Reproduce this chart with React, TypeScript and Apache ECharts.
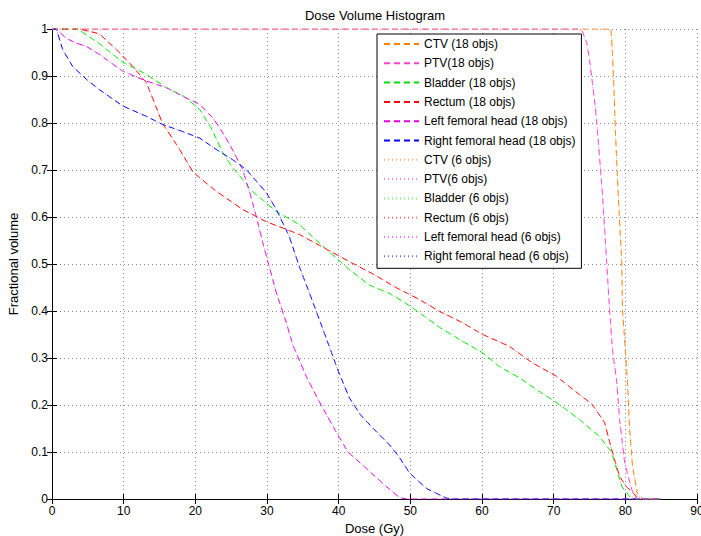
import React, { useEffect, useRef } from "react";
import * as echarts from "echarts";

// Dose (Gy) / fractional volume pairs
const ctvDose = [0, 78.0, 78.2, 78.4, 78.6, 79.0, 79.5, 79.6, 80.0, 80.3, 80.6, 81.0, 81.7, 82.5, 85];
const ctvVol = [1, 1, 0.95, 0.878, 0.786, 0.65, 0.503, 0.403, 0.318, 0.248, 0.148, 0.07, 0.01, 0, 0];

const ptvDose = [0, 73.5, 74.0, 74.6, 75.0, 75.4, 75.8, 76.1, 76.8, 77.4, 77.8, 78.2, 78.8, 79.2, 79.9, 80.9, 81.6, 85];
const ptvVol = [1, 1, 0.995, 0.971, 0.935, 0.886, 0.836, 0.786, 0.65, 0.503, 0.403, 0.318, 0.25, 0.169, 0.078, 0.02, 0, 0];

const bladderDose = [0, 3.6, 6.5, 9.9, 13, 16, 18.5, 20.6, 22.2, 23.8, 25.2, 26.6, 28.0, 31.3, 34.5, 38.3, 41.5, 44.3, 47, 49, 51.3, 54.1, 56.9, 60.1, 62.4, 65.2, 68.0, 70.8, 73.6, 76.4, 78.1, 78.8, 79.5, 80.6, 81.5, 85];
const bladderVol = [1, 1, 0.97, 0.929, 0.905, 0.875, 0.856, 0.829, 0.79, 0.737, 0.705, 0.68, 0.654, 0.612, 0.584, 0.531, 0.488, 0.455, 0.438, 0.42, 0.396, 0.365, 0.339, 0.311, 0.282, 0.258, 0.229, 0.201, 0.169, 0.133, 0.099, 0.063, 0.027, 0.005, 0, 0];

const rectumDose = [0, 3.8, 6.6, 9.0, 11.3, 13.2, 15.4, 17.8, 19.7, 22.9, 26.6, 29.9, 34.5, 39.2, 41.5, 45, 48, 51.3, 54.1, 57.3, 60.1, 63.8, 67, 70.4, 73.6, 75.4, 77.1, 77.8, 78.5, 79.2, 80.1, 81.6, 82.5, 85];
const rectumVol = [1, 1, 0.99, 0.956, 0.92, 0.885, 0.8, 0.744, 0.695, 0.655, 0.616, 0.59, 0.563, 0.524, 0.505, 0.477, 0.45, 0.424, 0.399, 0.375, 0.35, 0.325, 0.29, 0.261, 0.222, 0.201, 0.163, 0.122, 0.084, 0.048, 0.027, 0.005, 0, 0];

const leftFemDose = [0, 0.6, 2.0, 3.4, 4.8, 6.6, 9.9, 13.2, 16, 18.2, 20.6, 22.5, 24, 25.3, 26.6, 27.6, 28.5, 29.4, 30.3, 31.3, 32.7, 33.6, 35.5, 37.3, 39.3, 41.3, 44.3, 46.6, 48.5, 49.5, 85];
const leftFemVol = [1, 1, 0.98, 0.97, 0.963, 0.946, 0.91, 0.889, 0.875, 0.857, 0.84, 0.81, 0.775, 0.74, 0.701, 0.652, 0.601, 0.546, 0.495, 0.439, 0.375, 0.328, 0.26, 0.207, 0.152, 0.1, 0.059, 0.027, 0.003, 0, 0];

const rightFemDose = [0, 0.6, 1.5, 2.9, 4.8, 6.6, 9.9, 13.2, 15.4, 18.2, 20.6, 22.9, 25.2, 27.1, 29.9, 31.3, 33.1, 34.5, 35.9, 37.3, 38.7, 40, 41.5, 43, 44.5, 47.1, 48.5, 49.9, 52.3, 55, 56, 85];
const rightFemVol = [1, 1, 0.956, 0.92, 0.893, 0.871, 0.836, 0.814, 0.797, 0.782, 0.768, 0.744, 0.722, 0.701, 0.652, 0.616, 0.559, 0.495, 0.439, 0.382, 0.324, 0.27, 0.215, 0.18, 0.155, 0.115, 0.088, 0.055, 0.022, 0.002, 0, 0];

const names18 = ["CTV (18 objs)", "PTV(18 objs)", "Bladder (18 objs)", "Rectum (18 objs)", "Left femoral head (18 objs)", "Right femoral head (18 objs)"];
const names6 = ["CTV (6 objs)", "PTV(6 objs)", "Bladder (6 objs)", "Rectum (6 objs)", "Left femoral head (6 objs)", "Right femoral head (6 objs)"];
const colors18 = ["#ff8000", "#ff40d0", "#00e000", "#ff0000", "#e000e0", "#0000ff"];
const colors6 = ["#ffb060", "#ff80e8", "#70ff70", "#ff7070", "#ff70ff", "#7070ff"];

const xTicks = [0, 90, 10];
const yTicks = [0, 1, 0.1];

const organs = [
  [ctvDose, ctvVol],
  [ptvDose, ptvVol],
  [bladderDose, bladderVol],
  [rectumDose, rectumVol],
  [leftFemDose, leftFemVol],
  [rightFemDose, rightFemVol],
];

const FONT = "Liberation Sans, Arial, Helvetica, sans-serif";

export default function App() {
  const ref = useRef<HTMLDivElement>(null);
  useEffect(() => {
    if (!ref.current) return;
    const chart = echarts.init(ref.current, undefined, { renderer: "svg" });
    const pairs = (o: number[][]) => o[0].map((d, i) => [d, o[1][i]]);
    const series: any[] = [];
    organs.forEach((o, i) => {
      series.push({
        name: names18[i],
        type: "line",
        data: pairs(o as number[][]),
        showSymbol: false,
        symbol: "none",
        color: colors18[i],
        lineStyle: { width: 1, type: [6, 4], color: colors18[i] },
      });
    });
    organs.forEach((o, i) => {
      series.push({
        name: names6[i],
        type: "line",
        data: pairs(o as number[][]),
        showSymbol: false,
        symbol: "none",
        color: colors6[i],
        lineStyle: { width: 1, type: [1, 3], color: colors6[i] },
      });
    });
    const axisCommon = {
      type: "value" as const,
      axisLine: { show: true, lineStyle: { color: "#000", width: 1 } },
      axisTick: { show: true, inside: true, length: 5, lineStyle: { color: "#000" } },
    };
    chart.setOption({
      animation: false,
      backgroundColor: "#fff",
      title: {
        text: "Dose Volume Histogram",
        left: 375,
        textAlign: "center",
        top: 9,
        padding: 0,
        textStyle: { fontFamily: FONT, fontSize: 13, fontWeight: "normal", color: "#000" },
      },
      grid: { left: 52, top: 29, right: 4, bottom: 37, containLabel: false, outerBoundsMode: "none" },
      legend: {
        orient: "vertical",
        left: 377,
        top: 34,
        padding: [4, 6, 6, 6],
        itemGap: 7.3,
        itemWidth: 35,
        itemHeight: 12,
        backgroundColor: "#fff",
        borderColor: "#000",
        borderWidth: 1,
        borderRadius: 0,
        itemStyle: { opacity: 0, borderWidth: 0 },
        textStyle: { fontFamily: FONT, fontSize: 12, color: "#000" },
        data: [...names18, ...names6],
        selectedMode: false,
      },
      xAxis: [
        {
          ...axisCommon,
          position: "bottom",
          min: xTicks[0],
          max: xTicks[1],
          interval: xTicks[2],
          name: "Dose (Gy)",
          nameLocation: "middle",
          nameGap: 16,
          nameTextStyle: { fontFamily: FONT, fontSize: 13, color: "#000" },
          axisLabel: { fontFamily: FONT, fontSize: 12, color: "#000", margin: 6 },
          splitLine: { show: true, lineStyle: { color: "#8c8c8c", type: [1, 3], width: 1 } },
        },
        {
          ...axisCommon,
          position: "top",
          min: xTicks[0],
          max: xTicks[1],
          interval: xTicks[2],
          axisLabel: { show: false },
          splitLine: { show: false },
        },
      ],
      yAxis: [
        {
          ...axisCommon,
          position: "left",
          min: yTicks[0],
          max: yTicks[1],
          interval: yTicks[2],
          name: "Fractional volume",
          nameLocation: "middle",
          nameGap: 24,
          nameTextStyle: { fontFamily: FONT, fontSize: 13, color: "#000" },
          axisLabel: { fontFamily: FONT, fontSize: 12, color: "#000", margin: 4 },
          splitLine: { show: true, lineStyle: { color: "#8c8c8c", type: [1, 3], width: 1 } },
        },
        {
          ...axisCommon,
          position: "right",
          min: yTicks[0],
          max: yTicks[1],
          interval: yTicks[2],
          axisLabel: { show: false },
          splitLine: { show: false },
        },
      ],
      series,
    });
    return () => chart.dispose();
  }, []);
  return (
    <div
      ref={ref}
      style={{ position: "fixed", left: 0, top: 0, width: 701, height: 536 }}
    />
  );
}
